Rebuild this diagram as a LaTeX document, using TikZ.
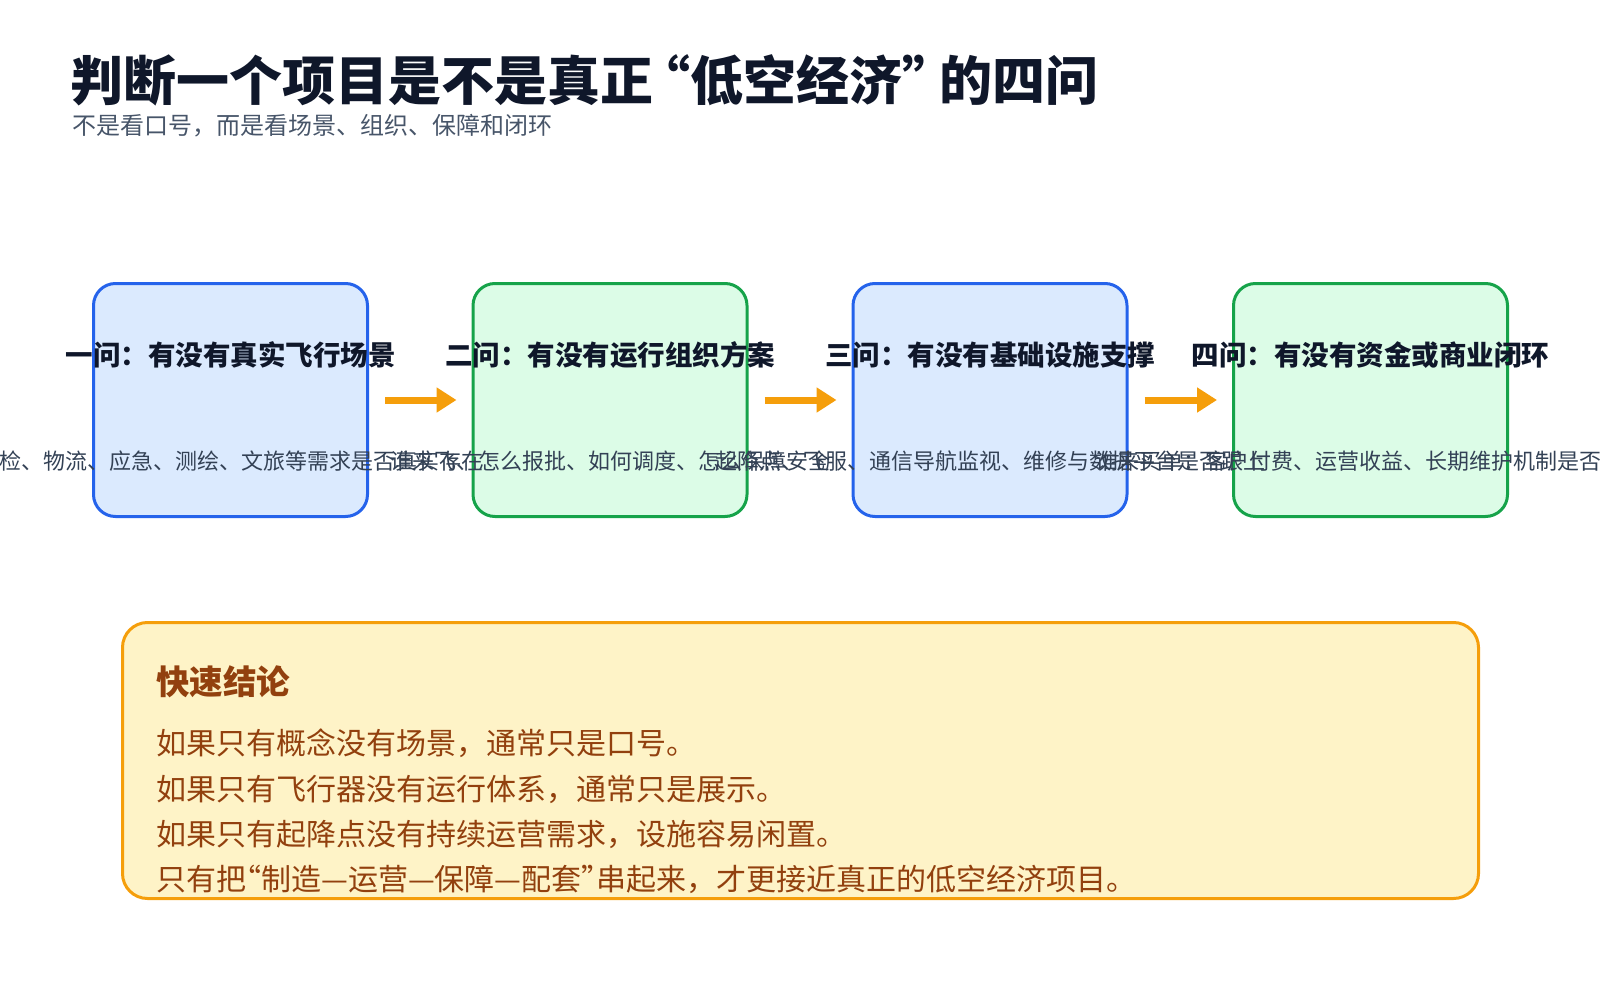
\documentclass[tikz,border=0pt]{standalone}
\usepackage{fontspec}
\setmainfont{Noto Sans CJK SC}
\usepackage{xcolor}
\usetikzlibrary{arrows.meta, positioning}

\definecolor{ink}{HTML}{0F172A}
\definecolor{slate}{HTML}{475569}
\definecolor{slatedark}{HTML}{334155}
\definecolor{blueline}{HTML}{2563EB}
\definecolor{bluefill}{HTML}{DBEAFE}
\definecolor{greenline}{HTML}{16A34A}
\definecolor{greenfill}{HTML}{DCFCE7}
\definecolor{amber}{HTML}{F59E0B}
\definecolor{amberfill}{HTML}{FEF3C7}
\definecolor{brown}{HTML}{92400E}

\begin{document}
\begin{tikzpicture}[
    x=1pt, y=-1pt,
    qbox/.style={draw, rounded corners=22pt, line width=3pt, minimum width=274pt, minimum height=233pt, inner sep=0pt},
    head/.style={inner sep=0pt, text=ink, font=\fontsize{27.5}{32}\selectfont\bfseries},
    desc/.style={inner sep=0pt, text=slatedark, font=\fontsize{22}{26}\selectfont},
    arr/.style={-{Triangle[length=20pt, width=24pt]}, line width=7pt, amber, shorten <=16pt, shorten >=15pt},
    concl/.style={inner sep=0pt, anchor=west, text=brown, font=\fontsize{30}{34}\selectfont},
]
    \useasboundingbox (0,0) rectangle (1600,1000);

    % title
    \node[anchor=base west, inner sep=0pt, text=ink, font=\fontsize{53}{60}\selectfont\bfseries] (title) at (70,101) {判断一个项目是不是真正\kern-16pt“低空经济”\kern-16pt 的四问};
    \node[anchor=base west, inner sep=0pt, text=slate, font=\fontsize{24}{28}\selectfont] (subtitle) at (72,135) {不是看口号，而是看场景、组织、保障和闭环};

    % four questions
    \node[qbox, draw=blueline, fill=bluefill] (q1) at (230.5,400) {};
    \node[qbox, draw=greenline, fill=greenfill] (q2) at (610,400) {};
    \node[qbox, draw=blueline, fill=bluefill] (q3) at (990,400) {};
    \node[qbox, draw=greenline, fill=greenfill] (q4) at (1370.5,400) {};

    \node[head] (h1) at (230.5,355) {一问：有没有真实飞行场景};
    \node[head] (h2) at (610,355) {二问：有没有运行组织方案};
    \node[head] (h3) at (990,355) {三问：有没有基础设施支撑};
    \node[head] (h4) at (1370.5,355) {四问：有没有资金或商业闭环};

    \node[desc] (d1) at (230.5,461) {巡检、物流、应急、测绘、文旅等需求是否真实存在};
    \node[desc] (d2) at (610,461) {谁来飞、怎么报批、如何调度、怎么保障安全};
    \node[desc] (d3) at (990,461) {起降点、飞服、通信导航监视、维修与数据平台是否跟上};
    \node[desc] (d4) at (1370.5,461) {谁来买单：客户付费、运营收益、长期维护机制是否清晰};

    \draw[arr] (q1) -- (q2);
    \draw[arr] (q2) -- (q3);
    \draw[arr] (q3) -- (q4);

    % quick conclusion
    \node[draw=amber, fill=amberfill, line width=3pt, rounded corners=25pt, minimum width=1356pt, minimum height=276pt, inner sep=0pt] (summary) at (800.5,760.5) {};
    \node[concl, font=\fontsize{33.5}{38}\selectfont\bfseries] (stitle) at (156,682) {快速结论};
    \node[concl] (s1) at (156,743) {如果只有概念没有场景，通常只是口号。};
    \node[concl] (s2) at (156,789) {如果只有飞行器没有运行体系，通常只是展示。};
    \node[concl] (s3) at (156,834) {如果只有起降点没有持续运营需求，设施容易闲置。};
    \node[concl] (s4) at (156,879) {只有把\kern-15pt“制造—运营—保障—配套”\kern-15pt 串起来，才更接近真正的低空经济项目。};
\end{tikzpicture}
\end{document}
